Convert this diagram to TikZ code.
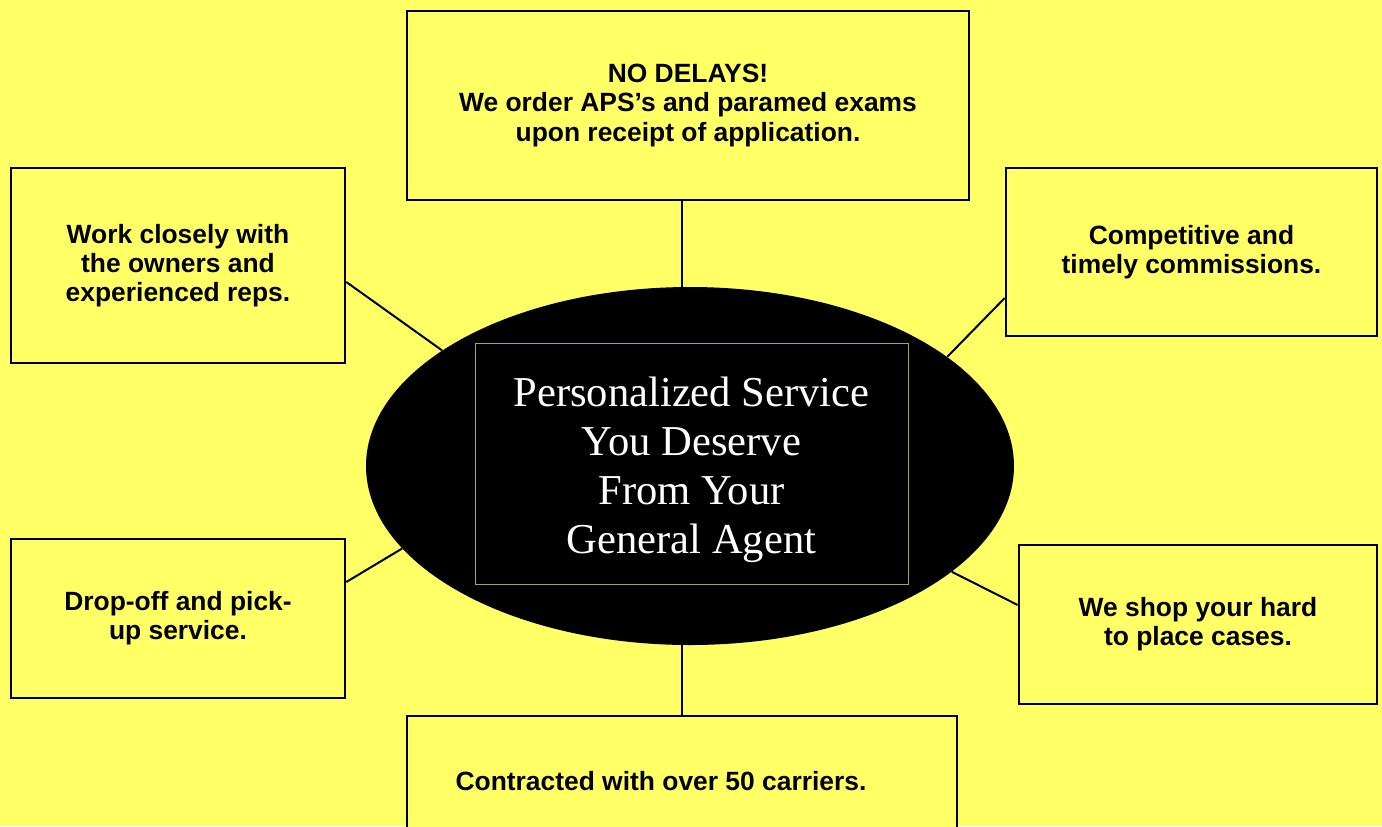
\documentclass[tikz,border=0pt]{standalone}
\usepackage{fontspec}
\setmainfont{Liberation Sans}
\newfontfamily\serifx{Liberation Serif}
\usetikzlibrary{shapes.geometric}
\definecolor{bgy}{HTML}{FFFF66}
\definecolor{olivex}{HTML}{A8A848}
\begin{document}
\begin{tikzpicture}[x=0.5pt,y=-0.5pt,
  box/.style={draw=black, line width=1.3pt, fill=bgy, font=\fontsize{13.2}{14.6}\selectfont\bfseries, align=center, inner sep=0pt},
  link/.style={draw=black, line width=1pt}]
\fill[bgy] (0,0) rectangle (1382,826);
\useasboundingbox (0,0) rectangle (1382,826);
\clip (0,0) rectangle (1382,826);

\node[box, minimum width=281pt, minimum height=94.5pt] (top) at (688,105.5)
  {NO DELAYS!\\We order APS’s and paramed exams\\upon receipt of application.};
\node[box, minimum width=167pt, minimum height=97.5pt] (lt) at (178,265.5)
  {Work closely with\\the owners and\\experienced reps.};
\node[box, minimum width=185.5pt, minimum height=84pt] (rt) at (1191.5,252)
  {Competitive and\\timely commissions.};
\node[box, minimum width=167pt, minimum height=79.5pt] (lb) at (178,618.5)
  {Drop-off and pick-\\up service.};
\node[box, minimum width=179pt, minimum height=79.5pt] (rb) at (1198,624.5)
  {We shop your hard\\to place cases.};
\node[box, minimum width=275pt, minimum height=65pt] (bot) at (682,781)
  {Contracted with over 50 carriers.\hspace*{21pt}};

\node[ellipse, fill=black, inner sep=0pt, minimum width=324pt, minimum height=179pt] (ell) at (690,466) {};
\node[draw=olivex, line width=0.5pt, minimum width=216.5pt, minimum height=120.5pt, inner sep=0pt,
  text=white, align=center, font=\serifx\fontsize{21.3}{24.5}\selectfont] (title) at (691.5,463.5)
  {\rule{0pt}{20.6pt}Personalized Service\\You Deserve\\From Your\\General Agent};

\draw[link] ([xshift=-3pt]top.south) -- ([xshift=-4pt]ell.north);
\draw[link] ([yshift=-8.25pt]lt.east) -- (ell.155.5);
\draw[link] ([yshift=-23pt]rt.west) -- (ell.23);
\draw[link] ([yshift=18.25pt]lb.east) -- (ell.196.4);
\draw[link] ([yshift=9.75pt]rb.west) -- (ell.-22.9);
\draw[link] (bot.north) -- ([xshift=-4pt]ell.south);
\end{tikzpicture}
\end{document}
